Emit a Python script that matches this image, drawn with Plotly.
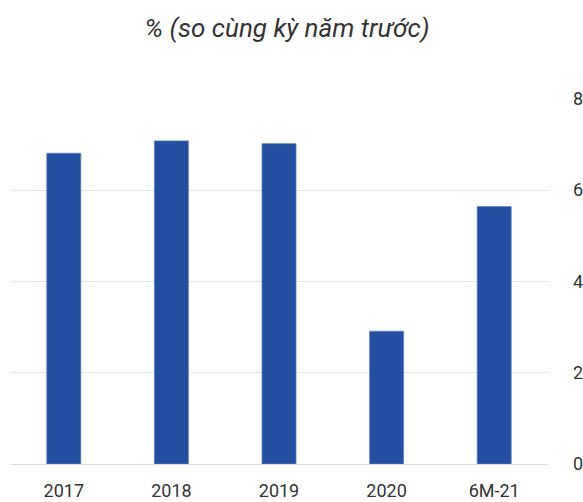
import plotly.graph_objects as go

categories = ["2017", "2018", "2019", "2020", "6M-21"]
growth = [6.81, 7.08, 7.02, 2.91, 5.64]
y_ticks = [0, 2, 4, 6, 8]
title_text = "% (so cùng kỳ năm trước)"

fig = go.Figure(
    go.Bar(
        x=categories,
        y=growth,
        marker=dict(color="#244E9F", line=dict(color="#5d7fc0", width=0.8)),
        hoverinfo="x+y",
    )
)

W, H = 583, 502
fig.update_layout(
    width=W,
    height=H,
    margin=dict(l=10, r=35, t=98, b=38),
    paper_bgcolor="white",
    plot_bgcolor="white",
    bargap=0.684,
    showlegend=False,
    font=dict(family="Roboto", size=18, color="#333333"),
    title=dict(
        text=title_text,
        x=287 / W,
        xref="container",
        xanchor="center",
        y=1 - 28 / H,
        yref="container",
        yanchor="middle",
        font=dict(family="Roboto", size=26, color="#333333", style="italic"),
    ),
    xaxis=dict(
        showgrid=False,
        showline=False,
        ticks="",
        automargin=False,
        ticklabelstandoff=14,
        tickfont=dict(size=18, color="#333333"),
    ),
    yaxis=dict(
        side="right",
        range=[0, 8.02],
        tickvals=y_ticks,
        showgrid=True,
        gridcolor="#e6e6e6",
        gridwidth=1,
        zeroline=True,
        zerolinecolor="#e0e0e0",
        zerolinewidth=1,
        showline=False,
        ticks="",
        automargin=False,
        ticklabelstandoff=24,
        tickfont=dict(size=18, color="#333333"),
    ),
)

fig.write_html(
    "out.html",
    config={"displayModeBar": False},
    post_script="document.body.style.margin='0px';document.documentElement.style.overflow='hidden';",
)
